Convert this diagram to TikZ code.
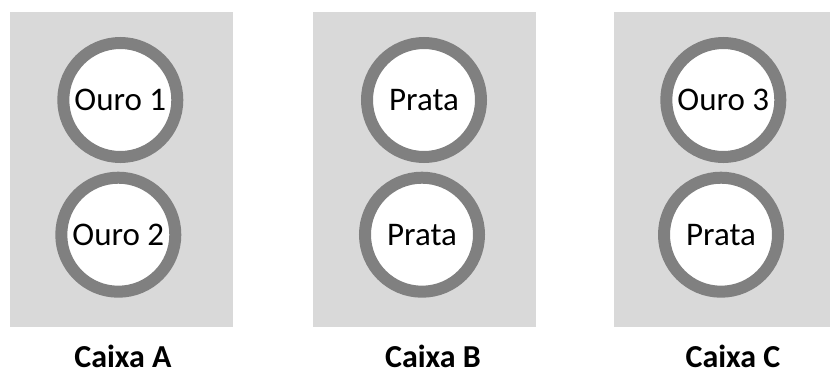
\documentclass[tikz,border=0pt]{standalone}
\usepackage{fontspec}
\setmainfont{Carlito}
\definecolor{boxgray}{HTML}{D9D9D9}
\definecolor{ringgray}{HTML}{808080}
\begin{document}
\begin{tikzpicture}[x=1pt,y=-1pt,
  caixa/.style={fill=boxgray,draw=none},
  coin/.style={circle,draw=ringgray,line width=12pt,fill=white,minimum size=114pt,inner sep=0pt,font=\fontsize{33}{36}\selectfont},
  rotulo/.style={font=\fontsize{32}{36}\selectfont\bfseries,inner sep=0pt,anchor=base}]
\useasboundingbox (0,0) rectangle (830,378);
\fill[white] (0,0) rectangle (830,378);
\node[caixa,minimum width=223pt,minimum height=315pt,inner sep=0pt] (bA) at (121.5,169.5) {};
\node[caixa,minimum width=223pt,minimum height=315pt,inner sep=0pt] (bB) at (424.2,169.5) {};
\node[caixa,minimum width=216pt,minimum height=315pt,inner sep=0pt] (bC) at (722,169.5) {};
\node[coin] (a1) at (120.3,100) {Ouro 1};
\node[coin] (a2) at (118.3,234.7) {Ouro 2};
\node[coin] (b1) at (424,100) {Prata};
\node[coin] (b2) at (422,234.7) {Prata};
\node[coin] (c1) at (723.3,100) {Ouro 3};
\node[coin] (c2) at (721,234.7) {Prata};
\node[rotulo] (lA) at (123,367) {Caixa A};
\node[rotulo] (lB) at (433,367) {Caixa B};
\node[rotulo] (lC) at (733,367) {Caixa C};
\end{tikzpicture}
\end{document}
